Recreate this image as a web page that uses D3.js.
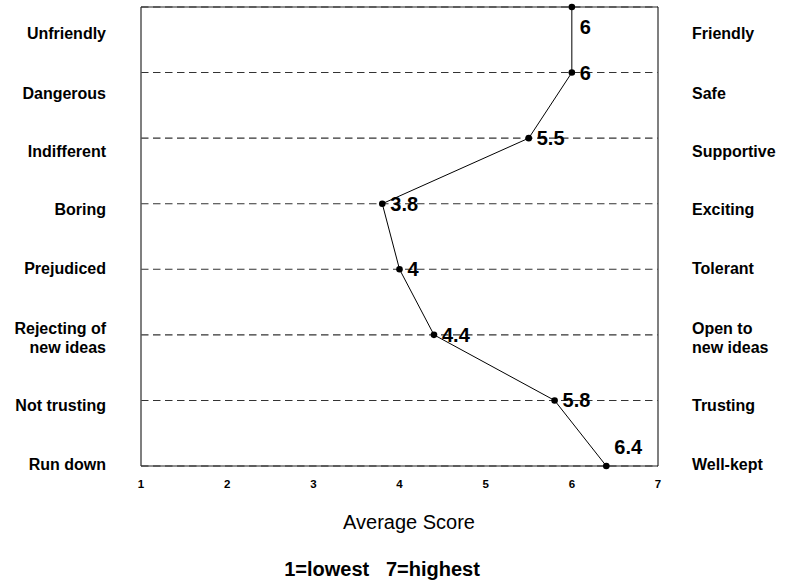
<!DOCTYPE html>
<html>
<head>
<meta charset="utf-8">
<script src="https://cdn.jsdelivr.net/npm/d3@7"></script>
<style>
  html, body { margin: 0; padding: 0; background: #fff; }
  svg { display: block; font-family: "Liberation Sans", Arial, sans-serif; }
</style>
</head>
<body>
<svg id="chart" width="789" height="581"></svg>
<script>
// ---- data ----
const leftLabels = ["Unfriendly", "Dangerous", "Indifferent", "Boring", "Prejudiced", "Rejecting of\nnew ideas", "Not trusting", "Run down"];
const rightLabels = ["Friendly", "Safe", "Supportive", "Exciting", "Tolerant", "Open to\nnew ideas", "Trusting", "Well-kept"];
const scores = [6, 6, 5.5, 3.8, 4, 4.4, 5.8, 6.4];
const xTicks = [1, 2, 3, 4, 5, 6, 7];
const xTitle = "Average Score";
const footNote = "1=lowest   7=highest";

// ---- layout ----
const W = 789, H = 581;
const plot = { left: 141, right: 658, top: 7, bottom: 466 };
const labelCenters = [33, 92.5, 150.5, 209, 268, 337, 405, 464];
const valueLabelDy = [27, 7, 7, 7, 7, 7, 7, -12];

const svg = d3.select("#chart");

const x = d3.scaleLinear().domain([1, 7]).range([plot.left, plot.right]);
const y = d3.scalePoint().domain(d3.range(scores.length)).range([plot.top, plot.bottom]);

// gridlines (dashed)
svg.append("g").selectAll("line").data(d3.range(scores.length)).join("line")
  .attr("x1", plot.left).attr("x2", plot.right)
  .attr("y1", d => y(d)).attr("y2", d => y(d))
  .attr("stroke", "#333").attr("stroke-width", 1.1)
  .attr("stroke-dasharray", "7.5,4.5");

// frame
svg.append("line").attr("x1", plot.left).attr("x2", plot.left).attr("y1", plot.top).attr("y2", plot.bottom)
  .attr("stroke", "#555").attr("stroke-width", 1.5);
svg.append("line").attr("x1", plot.right).attr("x2", plot.right).attr("y1", plot.top).attr("y2", plot.bottom)
  .attr("stroke", "#555").attr("stroke-width", 1.5);
svg.append("line").attr("x1", plot.left).attr("x2", plot.right).attr("y1", plot.top).attr("y2", plot.top)
  .attr("stroke", "#222").attr("stroke-width", 1.2);
svg.append("line").attr("x1", plot.left).attr("x2", plot.right).attr("y1", plot.bottom).attr("y2", plot.bottom)
  .attr("stroke", "#222").attr("stroke-width", 1.2);

// x tick labels
svg.append("g").selectAll("text").data(xTicks).join("text")
  .attr("x", d => x(d)).attr("y", 488)
  .attr("text-anchor", "middle")
  .attr("font-size", 11.5).attr("font-weight", "bold")
  .text(d => d);

// line
const line = d3.line().x(d => x(d)).y((d, i) => y(i));
svg.append("path").datum(scores)
  .attr("d", line).attr("fill", "none").attr("stroke", "#000").attr("stroke-width", 1);

// points
svg.append("g").selectAll("circle").data(scores).join("circle")
  .attr("cx", d => x(d)).attr("cy", (d, i) => y(i)).attr("r", 3.3).attr("fill", "#000");

// value labels
svg.append("g").selectAll("text").data(scores).join("text")
  .attr("x", d => x(d) + 8)
  .attr("y", (d, i) => y(i) + valueLabelDy[i])
  .attr("font-size", 20).attr("font-weight", "bold")
  .text(d => d);

// side labels
function sideLabels(labels, xPos, anchor) {
  const g = svg.append("g");
  labels.forEach((lab, i) => {
    const lines = lab.split("\n");
    const lh = 19;
    const t = g.append("text")
      .attr("text-anchor", anchor)
      .attr("font-size", 16).attr("font-weight", "bold");
    lines.forEach((ln, j) => {
      t.append("tspan").attr("x", xPos)
        .attr("y", labelCenters[i] + 6 + (j - (lines.length - 1) / 2) * lh)
        .text(ln);
    });
  });
}
sideLabels(leftLabels, 106, "end");
sideLabels(rightLabels, 692, "start");

// axis title
svg.append("text").attr("x", 409).attr("y", 529).attr("text-anchor", "middle")
  .attr("font-size", 20).text(xTitle);

// footnote
svg.append("text").attr("x", 382).attr("y", 576).attr("text-anchor", "middle")
  .attr("font-size", 20).attr("font-weight", "bold")
  .attr("xml:space", "preserve").style("white-space", "pre")
  .text(footNote);
</script>
</body>
</html>
